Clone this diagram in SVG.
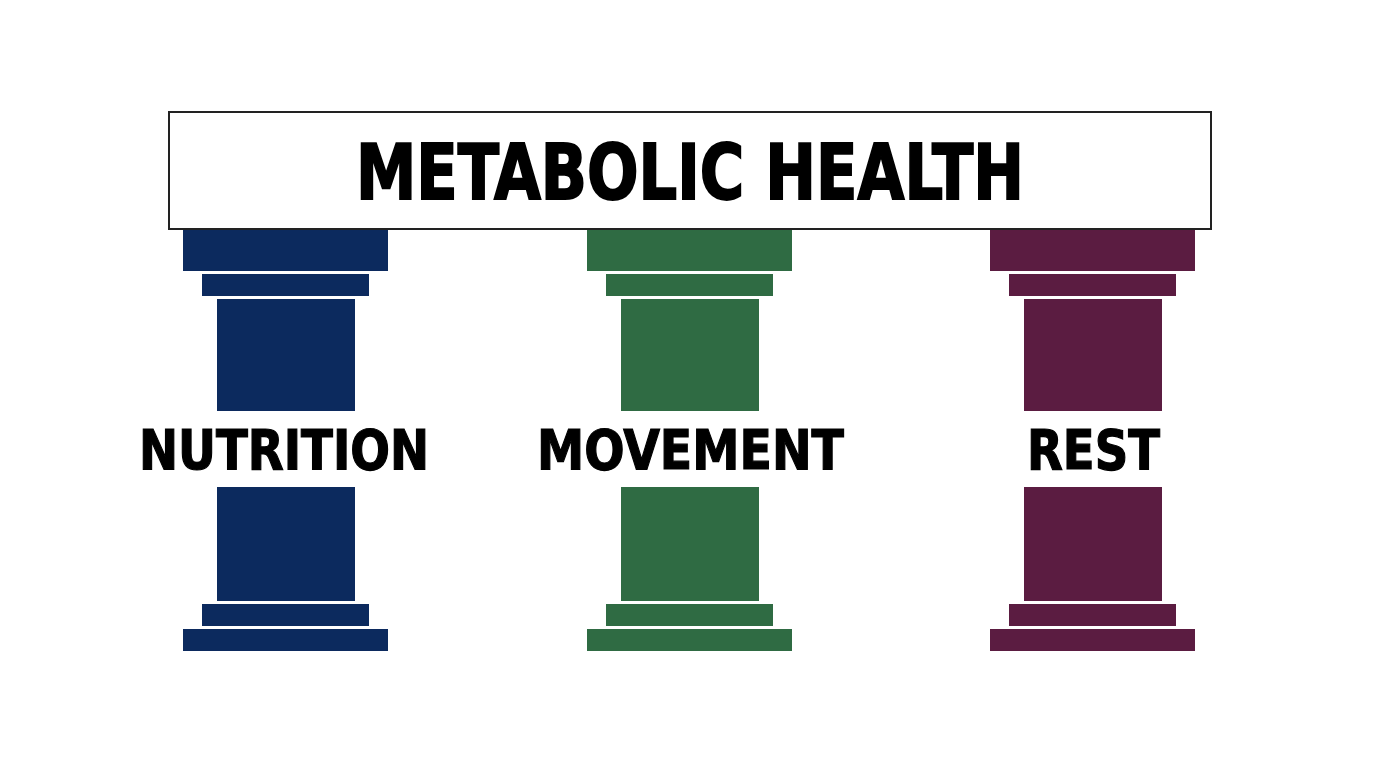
<svg xmlns="http://www.w3.org/2000/svg" width="1376" height="768" viewBox="0 0 1376 768">
<style>
.lbl{font-family:"DejaVu Sans Condensed","Roboto","Liberation Sans",sans-serif;font-weight:bold;fill:#000;stroke:#000;stroke-width:1.2;}
.blue{fill:#0c2a5e;}
.green{fill:#2f6b43;}
.purple{fill:#5b1c41;}
</style>
<defs>
<g id="pillar">
<rect x="-102.5" y="229" width="205" height="42"/>
<rect x="-83.5" y="274" width="167" height="22"/>
<rect x="-68.5" y="299" width="138" height="112"/>
<rect x="-68.5" y="487" width="138" height="114"/>
<rect x="-83.5" y="604" width="167" height="22"/>
<rect x="-102.5" y="629" width="205" height="22"/>
</g>
</defs>
<rect width="1376" height="768" fill="#fff"/>
<g id="nutrition">
<use href="#pillar" x="285.5" class="blue"/>
<text class="lbl" x="284" y="469" font-size="56" text-anchor="middle" textLength="290" lengthAdjust="spacingAndGlyphs">NUTRITION</text>
</g>
<g id="movement">
<use href="#pillar" x="689.5" class="green"/>
<text class="lbl" x="690.5" y="469" font-size="56" text-anchor="middle" textLength="307" lengthAdjust="spacingAndGlyphs">MOVEMENT</text>
</g>
<g id="rest">
<use href="#pillar" x="1092.5" class="purple"/>
<text class="lbl" x="1093.5" y="469" font-size="56" text-anchor="middle" textLength="133" lengthAdjust="spacingAndGlyphs">REST</text>
</g>
<g id="metabolic-health">
<rect x="169" y="112" width="1042" height="117" fill="#fff" stroke="#222" stroke-width="2"/>
<text class="lbl" x="690" y="199" font-size="76" text-anchor="middle" textLength="668" lengthAdjust="spacingAndGlyphs" style="stroke-width:1.8">METABOLIC HEALTH</text>
</g>
<g id="connectors"></g>
</svg>
